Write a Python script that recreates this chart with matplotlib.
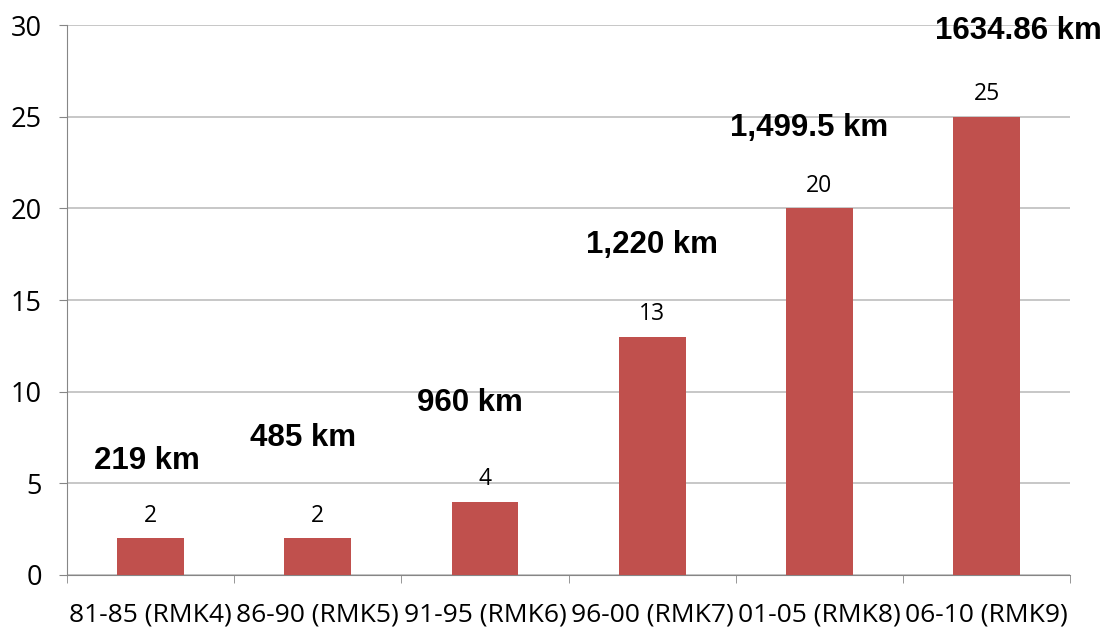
import numpy as np
import matplotlib.pyplot as plt

periods = ['81-85 (RMK4)', '86-90 (RMK5)', '91-95 (RMK6)', '96-00 (RMK7)', '01-05 (RMK8)', '06-10 (RMK9)']
counts = [2, 2, 4, 13, 20, 25]
km_labels = ['219 km', '485 km', '960 km', '1,220 km', '1,499.5 km', '1634.86 km']

# where the bold km labels sit (x shift in categories, y in data units)
km_dx = [-0.02, -0.09, -0.09, 0.0, -0.06, 0.19]
km_y = [6.2, 7.5, 9.4, 18.0, 24.4, 29.7]

bar_color = '#C0504D'
line_color = '#868686'
grid_color = '#BEBEBE'

fig = plt.figure(figsize=(11.06, 6.32), dpi=100)
ax = fig.add_axes([0.0606, 0.0902, 0.907, 0.8702])

x = np.arange(len(periods))
ax.bar(x, counts, width=0.4, color=bar_color, zorder=3)

for xi, c in zip(x, counts):
    ax.annotate(str(c), (xi, c), xytext=(0, 16), textcoords='offset points',
                ha='center', va='center', fontsize=16.5, family='Open Sans', zorder=4)

for xi, lab, dx, y in zip(x, km_labels, km_dx, km_y):
    ax.text(xi + dx, y, lab, ha='center', va='center', fontsize=22.5,
            fontweight='bold', family='Liberation Sans', zorder=4, clip_on=False)

ax.set_xlim(-0.5, len(periods) - 0.5)
ax.set_ylim(0, 30)
ax.set_yticks(range(0, 31, 5))
ax.yaxis.grid(True, color=grid_color, linewidth=1.2, zorder=0)

ax.set_xticks(x)
ax.set_xticklabels(periods, family='Open Sans', fontsize=19)
ax.tick_params(axis='x', which='major', length=0, pad=20)
ax.set_xticks(np.arange(-0.5, len(periods)), minor=True)
ax.tick_params(axis='x', which='minor', length=6, color=line_color)
ax.tick_params(axis='y', length=6, color=line_color, pad=12)
for lab in ax.get_yticklabels():
    lab.set_family('Open Sans')
    lab.set_fontsize(19.5)

for side in ['top', 'right']:
    ax.spines[side].set_visible(False)
ax.spines['left'].set_color(line_color)
ax.spines['bottom'].set_color(line_color)

fig.savefig('out.png', dpi=100)
